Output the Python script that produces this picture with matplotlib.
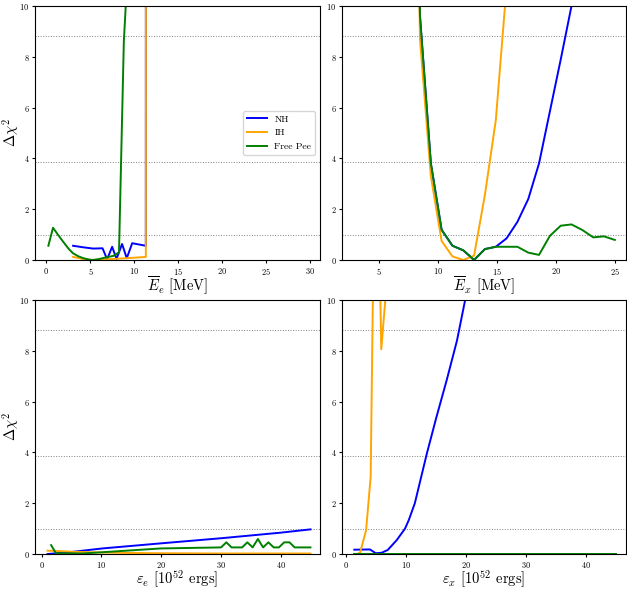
import matplotlib
matplotlib.use('Agg')
import matplotlib.pyplot as plt

plt.rcParams['font.family'] = 'serif'
plt.rcParams['font.serif'] = ['cmr10', 'DejaVu Serif']
plt.rcParams['mathtext.fontset'] = 'cm'
plt.rcParams['axes.formatter.use_mathtext'] = True

# --- mean energy of nu_e bar ---
ee_nh_x = [3.03, 4.17, 5.3, 6.38, 6.9, 7.47, 7.97, 8.6, 9.13, 9.75, 11.3, 11.33]
ee_nh_y = [0.56, 0.5, 0.45, 0.46, 0.03, 0.52, 0.04, 0.63, 0.07, 0.66, 0.56, 60.0]
ee_ih_x = [3.03, 4.17, 5.1, 6.4, 8.16, 11.3, 11.33]
ee_ih_y = [0.12, 0.04, 0.0, 0.02, 0.05, 0.12, 60.0]
ee_fp_x = [0.22, 0.75, 1.3, 1.9, 2.5, 3.0, 3.6, 4.2, 4.8, 5.3, 5.9, 6.5, 7.0, 7.6, 8.25, 8.8, 9.4]
ee_fp_y = [0.56, 1.27, 1.0, 0.72, 0.45, 0.27, 0.15, 0.07, 0.02, 0.0, 0.03, 0.08, 0.12, 0.16, 0.3, 8.6, 12.5]

# --- mean energy of nu_x ---
ex_x = [7.58, 8.5, 9.42, 10.33, 11.25, 12.17, 13.08, 14.0, 14.92, 15.83,
        16.75, 17.67, 18.58, 19.5, 20.42, 21.33, 22.25, 23.17, 24.08, 25.0]
ex_nh_y = [40.0, 9.6, 3.81, 1.19, 0.56, 0.38, 0.0, 0.43, 0.52, 0.85,
           1.5, 2.4, 3.8, 5.85, 7.9, 10.0, 12.5, 15.0, 18.0, 21.0]
ex_ih_y = [40.0, 8.7, 3.3, 0.75, 0.14, 0.0, 0.17, 2.57, 5.5, 10.75,
           20.0, 30.0, 40.0, 50.0, 60.0, 70.0, 80.0, 90.0, 100.0, 110.0]
ex_fp_y = [40.0, 9.6, 3.81, 1.19, 0.56, 0.38, 0.0, 0.43, 0.52, 0.52,
           0.52, 0.29, 0.2, 0.95, 1.35, 1.4, 1.18, 0.89, 0.93, 0.79]

# --- total energy in nu_e bar ---
eps_e_nh_x = [1.0, 2.5, 5.0, 10.2, 20.0, 30.0, 40.0, 45.0]
eps_e_nh_y = [0.0, 0.03, 0.08, 0.22, 0.42, 0.62, 0.84, 0.97]
eps_e_ih_x = [1.0, 2.5, 5.0, 10.0, 15.0, 20.0, 30.0, 45.0]
eps_e_ih_y = [0.13, 0.12, 0.09, 0.06, 0.04, 0.03, 0.02, 0.02]
eps_e_fp_x = [1.6, 2.4, 6.9, 20.0, 30.04, 30.92, 31.8, 32.68, 33.56, 34.44, 35.32,
              36.2, 37.08, 37.96, 38.84, 39.72, 40.6, 41.48, 42.36, 43.24, 44.12, 45.0]
eps_e_fp_y = [0.35, 0.03, 0.02, 0.22, 0.26, 0.46, 0.26, 0.26, 0.26, 0.46, 0.26,
              0.59, 0.26, 0.46, 0.26, 0.26, 0.46, 0.46, 0.26, 0.26, 0.26, 0.26]

# --- total energy in nu_x ---
eps_x_nh_x = [1.44, 4.05, 5.0, 6.0, 7.0, 8.5, 9.87, 10.5, 11.5, 13.5, 15.1, 16.8, 18.5, 19.86, 22.0]
eps_x_nh_y = [0.17, 0.18, 0.03, 0.05, 0.16, 0.55, 1.0, 1.34, 2.0, 3.96, 5.4, 6.85, 8.4, 10.0, 12.0]
eps_x_ih_x = [2.0, 2.4, 3.4, 4.16, 5.04, 5.92, 6.8, 7.7]
eps_x_ih_y = [0.01, 0.05, 0.94, 3.04, 20.0, 8.06, 10.6, 25.0]
eps_x_fp_x = [1.44, 10.0, 20.0, 30.0, 40.0, 45.0]
eps_x_fp_y = [0.0, 0.0, 0.0, 0.0, 0.0, 0.0]

cl_levels = [1.0, 3.84, 8.8]

fig = plt.figure(figsize=(6.27, 5.89), dpi=100)
ax_tl = fig.add_axes([0.0558, 0.5586, 0.4546, 0.4312])
ax_tr = fig.add_axes([0.5455, 0.5586, 0.4530, 0.4312])
ax_bl = fig.add_axes([0.0558, 0.0594, 0.4546, 0.4313])
ax_br = fig.add_axes([0.5455, 0.0594, 0.4530, 0.4313])

panels = [
    (ax_tl, (ee_nh_x, ee_nh_y), (ee_ih_x, ee_ih_y), (ee_fp_x, ee_fp_y),
     (-1.3, 31.1), r'$\overline{E}_e$ [MeV]', [0, 5, 10, 15, 20, 25, 30]),
    (ax_tr, (ex_x, ex_nh_y), (ex_x, ex_ih_y), (ex_x, ex_fp_y),
     (1.9, 25.95), r'$\overline{E}_x$ [MeV]', [5, 10, 15, 20, 25]),
    (ax_bl, (eps_e_nh_x, eps_e_nh_y), (eps_e_ih_x, eps_e_ih_y), (eps_e_fp_x, eps_e_fp_y),
     (-1.1, 46.6), r'$\varepsilon_e$ [$10^{52}$ ergs]', [0, 10, 20, 30, 40]),
    (ax_br, (eps_x_nh_x, eps_x_nh_y), (eps_x_ih_x, eps_x_ih_y), (eps_x_fp_x, eps_x_fp_y),
     (-0.6, 46.6), r'$\varepsilon_x$ [$10^{52}$ ergs]', [0, 10, 20, 30, 40]),
]

for ax, nh, ih, fp, xlim, xlabel, xticks in panels:
    for lvl in cl_levels:
        ax.axhline(lvl, color='gray', ls=':', lw=0.7)
    ax.plot(nh[0], nh[1], color='blue', lw=1.4, label='NH')
    ax.plot(ih[0], ih[1], color='orange', lw=1.4, label='IH')
    ax.plot(fp[0], fp[1], color='green', lw=1.4, label='Free Pee')
    ax.set_xlim(*xlim)
    ax.set_ylim(0, 10)
    ax.set_xticks(xticks)
    ax.set_yticks([0, 2, 4, 6, 8, 10])
    ax.tick_params(labelsize=6, length=2.5, pad=1.5)
    ax.set_xlabel(xlabel, fontsize=10.5, labelpad=-1)

ax_tl.set_ylabel(r'$\Delta\chi^2$', fontsize=10.5, labelpad=-1)
ax_bl.set_ylabel(r'$\Delta\chi^2$', fontsize=10.5, labelpad=-1)
ax_tl.legend(loc='center right', fontsize=7)

fig.savefig('out.png', dpi=100)
